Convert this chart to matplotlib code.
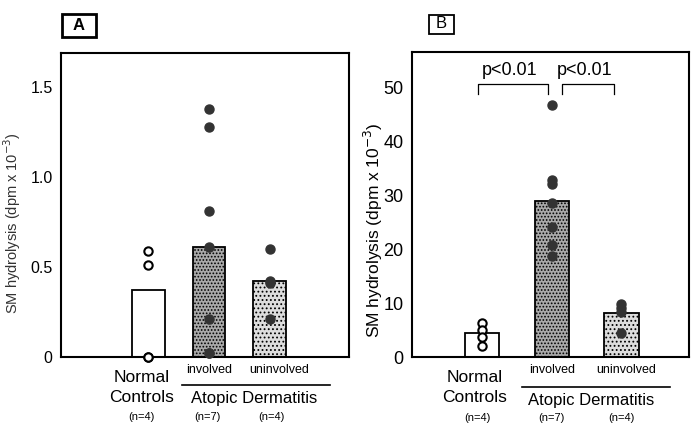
import matplotlib.pyplot as plt
from matplotlib import transforms
from matplotlib.patches import Rectangle

plt.rcParams['font.family'] = ['Liberation Sans', 'DejaVu Sans']
plt.rcParams['hatch.linewidth'] = 0.8

# group positions
pos = [1, 2, 3]

# panel A values
a_means = [0.37, 0.61, 0.42]
a_normal = [0.59, 0.51, 0.0, 0.0]
a_involved = [1.38, 1.28, 0.81, 0.61, 0.21, 0.02, 0.02]
a_uninvolved = [0.60, 0.42, 0.41, 0.21]

# panel B values
b_means = [4.4, 28.9, 8.2]
b_normal = [6.3, 5.0, 3.7, 2.0]
b_involved = [46.6, 32.8, 32.0, 28.5, 24.0, 20.7, 18.7]
b_uninvolved = [9.8, 9.0, 8.4, 4.5]

n_labels = ['(n=4)', '(n=7)', '(n=4)']
ylabel = 'SM hydrolysis (dpm x 10$^{-3}$)'

W, H = 691, 429
fig = plt.figure(figsize=(W / 100, H / 100), dpi=100)


def fy(py):
    return 1 - py / H


def panel(rect, means, groups, width, ylim, yticks, yticklabels, tfs):
    ax = fig.add_axes(rect)
    faces = ['white', '#a9a9a9', '#dddddd']
    hatches = [None, '.....', '....']
    for p, m, fc, h in zip(pos, means, faces, hatches):
        ax.bar(p, m, width, color=fc, edgecolor='black', hatch=h, linewidth=1.3, zorder=2)
    ax.plot([pos[0]] * len(groups[0]), groups[0], 'o', ms=6, mfc='white', mec='black', mew=1.5, zorder=3, clip_on=False)
    for p, g in zip(pos[1:], groups[1:]):
        ax.plot([p] * len(g), g, 'o', ms=6.5, color='#333333', zorder=3, clip_on=False)
    ax.set_ylim(*ylim)
    ax.set_yticks(yticks)
    ax.set_yticklabels(yticklabels, fontsize=tfs)
    ax.set_xticks([])
    ax.tick_params(axis='y', length=0, pad=6)
    for s in ax.spines.values():
        s.set_linewidth(1.5)
    return ax


def under_labels(ax, xs, ys):
    tr = transforms.blended_transform_factory(ax.transData, fig.transFigure)
    xn, xi, xu, xl0, xl1, xa, xn1, xn2, xn3 = xs
    yn, yc, yi, yl, ya, ynn = ys
    ax.text(xn, fy(yn), 'Normal', transform=tr, ha='center', va='center', fontsize=12.5)
    ax.text(xn, fy(yc), 'Controls', transform=tr, ha='center', va='center', fontsize=12.5)
    ax.text(xi, fy(yi), 'involved', transform=tr, ha='center', va='center', fontsize=9)
    ax.text(xu, fy(yi), 'uninvolved', transform=tr, ha='center', va='center', fontsize=9)
    ax.plot([xl0, xl1], [fy(yl), fy(yl)], color='black', lw=1.2, transform=tr, clip_on=False)
    ax.text(xa, fy(ya), 'Atopic Dermatitis', transform=tr, ha='center', va='center', fontsize=12)
    for x, t in zip([xn1, xn2, xn3], n_labels):
        ax.text(x, fy(ynn), t, transform=tr, ha='center', va='center', fontsize=8)


def panel_tag(cx, cy, w, h, letter, bold, lw):
    fig.patches.append(Rectangle(((cx - w / 2) / W, fy(cy + h / 2)), w / W, h / H,
                                 transform=fig.transFigure, fill=False, ec='black', lw=lw))
    fig.text(cx / W, fy(cy), letter, fontsize=12, fontweight='bold' if bold else 'normal',
             ha='center', va='center')


# Panel A
axA = panel([61 / W, 1 - 357 / H, 288 / W, 304 / H], a_means,
            [a_normal, a_involved, a_uninvolved], 0.54,
            (0, 1.69), [0, 0.5, 1.0, 1.5], ['0', '0.5', '1.0', '1.5'], 11.5)
axA.set_xlim(-0.43, 4.3)
axA.set_ylabel(ylabel, fontsize=10.5, color='#333333')
axA.yaxis.set_label_coords(-0.132, 0.44)
under_labels(axA, [0.89, 2.0, 3.16, 1.56, 3.98, 2.75, 0.89, 1.97, 3.03],
             [377, 398, 370, 385, 398, 417])
panel_tag(79, 25, 34, 23, 'A', True, 2.0)

# Panel B
axB = panel([412 / W, 1 - 357 / H, 277 / W, 305 / H], b_means,
            [b_normal, b_involved, b_uninvolved], 0.49,
            (0, 56.5), [0, 10, 20, 30, 40, 50], ['0', '10', '20', '30', '40', '50'], 13)
axB.set_xlim(-0.01, 3.97)
axB.set_ylabel(ylabel, fontsize=12.5)
axB.yaxis.set_label_coords(-0.097, 0.416)
under_labels(axB, [0.89, 2.0, 3.07, 1.57, 3.7, 2.57, 0.93, 1.99, 3.0],
             [377, 398, 370, 387, 400, 418])
panel_tag(441, 24, 25, 19, 'B', False, 1.3)

# significance brackets
for x0, x1 in [(0.94, 1.94), (2.14, 2.89)]:
    axB.plot([x0, x0, x1, x1], [48.7, 50.6, 50.6, 48.7], color='black', lw=0.9)
    axB.text((x0 + x1) / 2 - 0.05, 53.1, 'p<0.01', ha='center', va='center', fontsize=13)

fig.savefig('out.png', dpi=100)
